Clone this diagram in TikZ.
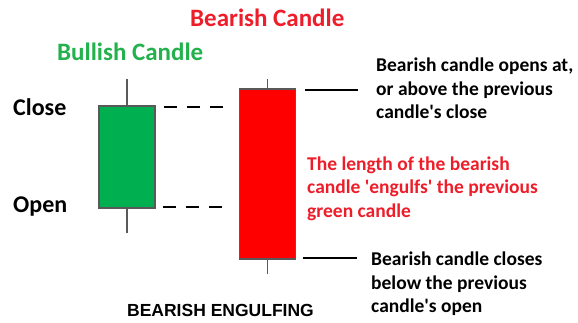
\documentclass[tikz,border=0pt]{standalone}
\usepackage{fontspec}
\setmainfont{Carlito}
\newfontfamily\capsfont{Liberation Sans}
\usetikzlibrary{positioning}
\definecolor{bodygreen}{HTML}{00B050}
\definecolor{bodyred}{HTML}{FF0000}
\definecolor{txtgreen}{HTML}{22B14C}
\definecolor{txtred}{HTML}{EE1D2A}
\definecolor{edgegray}{HTML}{595959}
\tikzset{
  candlebody/.style={draw=edgegray,line width=1.6pt,minimum width=56pt,inner sep=0pt},
  wick/.style={draw=edgegray,line width=1.6pt},
  dashline/.style={line width=2.4pt,dash pattern=on 13pt off 10pt},
  marker/.style={line width=2.4pt},
  note/.style={anchor=west,align=left,inner sep=0pt,font=\fontsize{19.5}{23.5}\selectfont\bfseries},
}
\begin{document}
\begin{tikzpicture}[x=1pt,y=-1pt]
\useasboundingbox (0,0) rectangle (578,322);
% candles
\node[candlebody,fill=bodygreen,minimum height=102pt] (bull) at (127,157) {};
\node[candlebody,fill=bodyred,minimum height=170pt] (bear) at (267.5,174) {};
\coordinate (bullhi) at (127,79);
\coordinate (bulllo) at (127,233);
\coordinate (bearhi) at (267.5,79);
\coordinate (bearlo) at (267.5,274);
\draw[wick] (bull.north) -- (bullhi);
\draw[wick] (bull.south) -- (bulllo);
\draw[wick] (bear.north) -- (bearhi);
\draw[wick] (bear.south) -- (bearlo);
% dashed levels
\coordinate (closeA) at (164,107);
\coordinate (closeB) at (224,107);
\coordinate (openA) at (163,207);
\coordinate (openB) at (223,207);
\draw[dashline] (closeA) -- (closeB);
\draw[dashline] (openA) -- (openB);
% markers
\coordinate (topA) at (305,90);
\coordinate (topB) at (358,90);
\coordinate (botA) at (303,258);
\coordinate (botB) at (357,258);
\draw[marker] (topA) -- (topB);
\draw[marker] (botA) -- (botB);
% labels
\node[note,font=\fontsize{25}{28}\selectfont\bfseries,text=txtred] (beartitle) at (190,18) {Bearish Candle};
\node[note,font=\fontsize{25}{28}\selectfont\bfseries,text=txtgreen] (bulltitle) at (57,52) {Bullish Candle};
\node[note,font=\fontsize{24}{28}\selectfont\bfseries] (closelbl) at (13,107) {Close};
\node[note,font=\fontsize{24}{28}\selectfont\bfseries] (openlbl) at (13,207) {Open};
\node[note] (opennote) at (376,88.5) {Bearish candle opens at,\\or above the previous\\candle\textquotesingle s close};
\node[note,text=txtred] (engulfnote) at (307,188.5) {The length of the bearish\\candle \textquotesingle engulfs\textquotesingle\ the previous\\green candle};
\node[note] (closenote) at (371,284) {Bearish candle closes\\below the previous\\candle\textquotesingle s open};
\node[anchor=center,inner sep=0pt,font=\capsfont\bfseries\fontsize{17.5}{20}\selectfont] (pattern) at (220.5,310) {BEARISH ENGULFING};
\end{tikzpicture}
\end{document}
